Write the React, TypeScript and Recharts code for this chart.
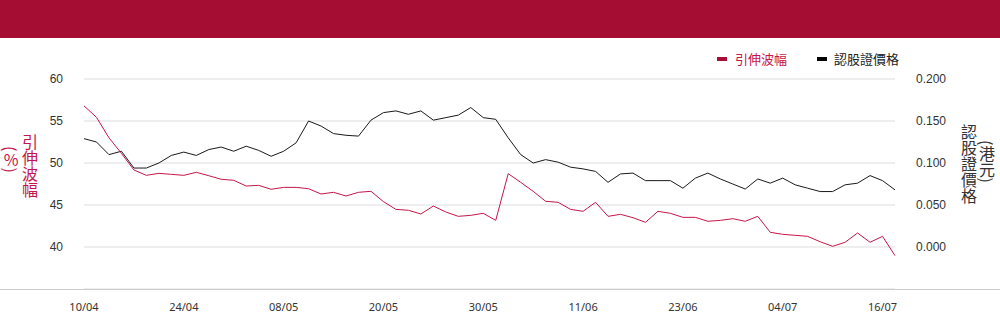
import React from 'react';
import { LineChart, Line, XAxis, YAxis, CartesianGrid, Legend } from 'recharts';

const dates = ['10/04','11/04','14/04','15/04','16/04','17/04','22/04','23/04','24/04','25/04','28/04','29/04','30/04','02/05','06/05','07/05','08/05','09/05','12/05','13/05','14/05','15/05','16/05','19/05','20/05','21/05','22/05','23/05','26/05','27/05','28/05','29/05','30/05','02/06','03/06','04/06','05/06','06/06','09/06','10/06','11/06','12/06','13/06','16/06','17/06','18/06','19/06','20/06','23/06','24/06','25/06','26/06','27/06','30/06','02/07','03/07','04/07','07/07','08/07','09/07','10/07','11/07','14/07','15/07','16/07','17/07'];

const impliedVol = [56.8, 55.44, 53.0, 51.15, 49.17, 48.53, 48.77, 48.65, 48.53, 48.89, 48.49, 48.06, 47.94, 47.26, 47.34, 46.87, 47.10, 47.10,
  46.94, 46.31, 46.51, 46.07, 46.51, 46.63, 45.40, 44.48, 44.37, 43.93, 44.88, 44.17, 43.65, 43.77, 44.01,
  43.17, 48.73, 47.70, 46.63, 45.44, 45.32, 44.48, 44.25, 45.32, 43.65, 43.89, 43.49, 42.94, 44.25, 44.01, 43.53,
  43.53, 43.06, 43.17, 43.37, 43.06, 43.65, 41.75, 41.51, 41.39, 41.27, 40.63, 40.08, 40.56, 41.67, 40.56, 41.27, 38.97];

const warrantPrice = [0.129, 0.125, 0.110, 0.114, 0.094, 0.094, 0.100, 0.109, 0.113, 0.109, 0.116, 0.119, 0.114, 0.120, 0.115, 0.108, 0.114, 0.124,
  0.150, 0.144, 0.135, 0.133, 0.132, 0.151, 0.160, 0.162, 0.158, 0.162, 0.151, 0.154, 0.157, 0.166, 0.154,
  0.152, 0.130, 0.110, 0.100, 0.104, 0.101, 0.095, 0.093, 0.090, 0.077, 0.087, 0.088, 0.079, 0.079, 0.079, 0.070,
  0.082, 0.088, 0.081, 0.075, 0.069, 0.081, 0.076, 0.082, 0.074, 0.070, 0.066, 0.066, 0.074, 0.076, 0.085, 0.079, 0.068];

const leftTicks = [40, 45, 50, 55, 60];
const rightTicks = [0, 0.05, 0.1, 0.15, 0.2];

const seriesNames = { iv: '引伸波幅', price: '認股證價格' };
const leftTitle = '引伸波幅';
const leftUnit = '%';
const rightTitle = '認股證價格';
const rightUnit = '港元';

const data = dates.map((d, i) => ({ date: d, iv: impliedVol[i], price: warrantPrice[i] }));

const RED = '#c4164a';
const RED_DARK = '#a80d35';
const BAND = '#a50e32';
const CJK = '"Noto Sans CJK TC", "Noto Sans", sans-serif';

const renderLegend = () => (
  <div style={{ display: 'flex', alignItems: 'center', height: 20, fontSize: 13, fontFamily: CJK, whiteSpace: 'nowrap', lineHeight: '20px' }}>
    <span style={{ display: 'inline-block', width: 10, height: 4, background: RED_DARK, marginRight: 8 }} />
    <span style={{ color: RED }}>{seriesNames.iv}</span>
    <span style={{ display: 'inline-block', width: 10, height: 4, background: '#000', marginLeft: 30, marginRight: 7 }} />
    <span style={{ color: '#222' }}>{seriesNames.price}</span>
  </div>
);

const vertical: React.CSSProperties = {
  position: 'absolute',
  writingMode: 'vertical-rl',
  textOrientation: 'mixed',
  fontFamily: CJK,
  fontSize: 16,
  lineHeight: '16px',
  whiteSpace: 'nowrap',
};

export default function App() {
  return (
    <div style={{ position: 'absolute', left: 0, top: 0, width: 1000, height: 324, background: '#fff', overflow: 'hidden' }}>
      <div style={{ position: 'absolute', left: 0, top: 0, width: 1000, height: 38, background: BAND }} />
      <div style={{ position: 'absolute', left: 0, top: 0 }}>
        <LineChart width={1000} height={324} data={data} margin={{ top: 79, right: 0, bottom: 0, left: 0 }}>
          <CartesianGrid yAxisId="left" vertical={false} stroke="#dddddd" />
          <XAxis
            dataKey="date"
            interval={7}
            height={35}
            axisLine={false}
            tickLine={false}
            tickSize={0}
            tickMargin={14}
            tick={{ fontSize: 11, fill: '#333', fontFamily: '"Noto Sans", sans-serif' }}
          />
          <YAxis
            yAxisId="left"
            orientation="left"
            width={84}
            domain={[35, 60]}
            ticks={leftTicks}
            axisLine={false}
            tickLine={false}
            tickSize={0}
            tickMargin={21}
            tick={{ fontSize: 12, fill: '#333', fontFamily: '"Liberation Sans", Arial, sans-serif' }}
          />
          <YAxis
            yAxisId="right"
            orientation="right"
            width={105}
            domain={[-0.05, 0.2]}
            ticks={rightTicks}
            tickFormatter={(v: number) => v.toFixed(3)}
            axisLine={false}
            tickLine={false}
            tickSize={0}
            tickMargin={21}
            tick={{ fontSize: 12, fill: '#333', fontFamily: '"Liberation Sans", Arial, sans-serif' }}
          />
          <Legend
            layout="vertical"
            align="center"
            verticalAlign="middle"
            content={renderLegend}
            wrapperStyle={{ position: 'absolute', top: 49, left: 717, width: 220, height: 20 }}
          />
          <Line yAxisId="right" type="linear" dataKey="price" name={seriesNames.price} stroke="#1a1a1a" strokeWidth={1} dot={false} activeDot={false} isAnimationActive={false} />
          <Line yAxisId="left" type="linear" dataKey="iv" name={seriesNames.iv} stroke={RED} strokeWidth={1} dot={false} activeDot={false} isAnimationActive={false} />
        </LineChart>
      </div>
      <div style={{ position: 'absolute', left: 0, top: 289, width: 1000, height: 1, background: '#cccccc' }} />
      <div style={{ ...vertical, left: 22, top: 134, color: RED }}>{leftTitle}</div>
      <div style={{ ...vertical, left: 3, top: 146, color: RED }}>
        (<span style={{ textOrientation: 'upright' }}>{leftUnit}</span>)
      </div>
      <div style={{ ...vertical, left: 961, top: 124, color: '#333' }}>{rightTitle}</div>
      <div style={{ ...vertical, left: 979, top: 140, color: '#333' }}>({rightUnit})</div>
    </div>
  );
}
